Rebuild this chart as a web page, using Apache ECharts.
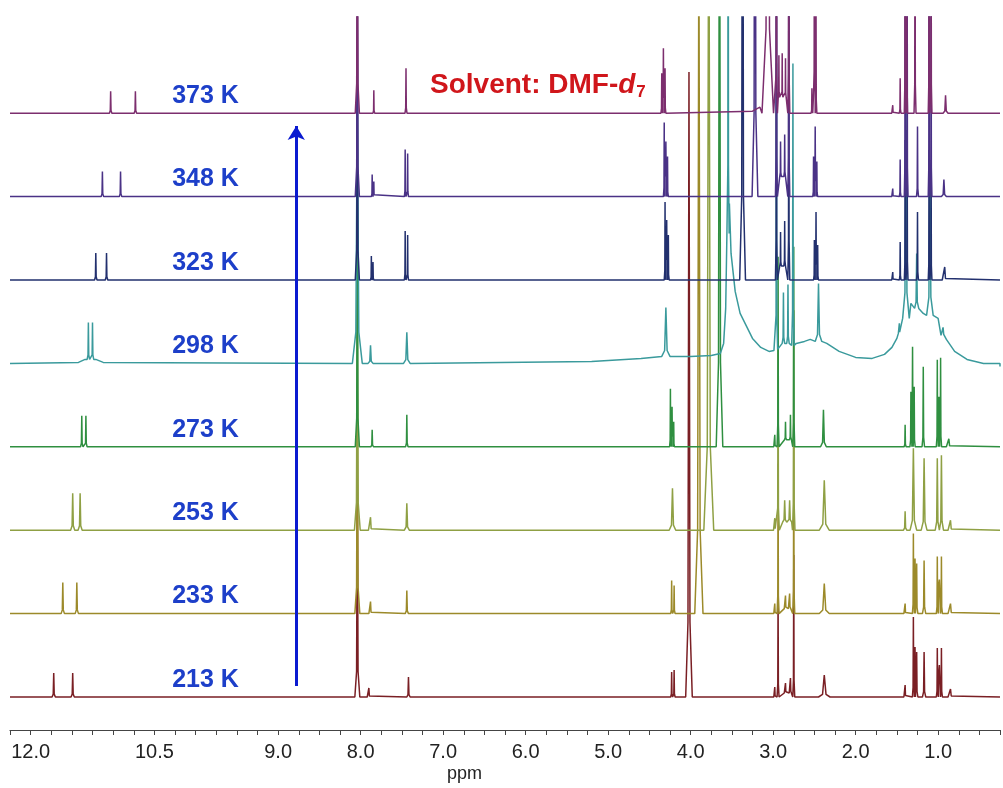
<!DOCTYPE html>
<html>
<head>
<meta charset="utf-8">
<script src="https://cdn.jsdelivr.net/npm/echarts@6/dist/echarts.min.js"></script>
<style>
  html, body { margin: 0; padding: 0; background: #fff; }
  #nmr { width: 1003px; height: 788px; }
</style>
</head>
<body>
<div id="nmr"></div>
<script>
  // spectra from bottom to top
  var temps = ['213 K', '233 K', '253 K', '273 K', '298 K', '323 K', '348 K', '373 K'];
  var lineColors = ['#7a1f24', '#9c8a2a', '#8fa044', '#2f8f40', '#3a9a9c', '#22306e', '#4a3286', '#7c2e6e'];
  var tickLabels = [12.0, 10.5, 9.0, 8.0, 7.0, 6.0, 5.0, 4.0, 3.0, 2.0, 1.0];

  // peaks: [ppm, height, half width in ppm, foot level]
  var peaks213 = [
    [11.72, 24, 0.02], [11.49, 24, 0.02],
    [8.04, 212, 0.03], [7.90, 9, 0.02], [7.42, 20, 0.02],
    [4.23, 25, 0.012], [4.20, 27, 0.012],
    [4.02, 625, 0.04],
    [2.98, 10, 0.012], [2.94, 107, 0.012], [2.85, 14, 0.015, 4], [2.79, 19, 0.015, 4], [2.75, 142, 0.012],
    [2.38, 22, 0.07],
    [1.40, 12, 0.015],
    [1.30, 80, 0.012], [1.28, 50, 0.012, 18], [1.26, 45, 0.015],
    [1.17, 45, 0.02],
    [1.01, 49, 0.012], [0.985, 32, 0.01, 22], [0.96, 49, 0.012],
    [0.85, 8, 0.03]
  ];
  var peaks233 = [
    [11.61, 31, 0.02], [11.44, 31, 0.02],
    [8.04, 220, 0.03], [7.88, 12, 0.02], [7.44, 23, 0.02],
    [4.23, 33, 0.012], [4.20, 28, 0.012],
    [3.90, 700, 0.05],
    [2.98, 10, 0.012], [2.94, 150, 0.012], [2.85, 18, 0.015, 5], [2.80, 20, 0.015, 5], [2.75, 190, 0.012],
    [2.38, 30, 0.06],
    [1.40, 10, 0.015],
    [1.30, 80, 0.012], [1.28, 55, 0.012, 20], [1.26, 50, 0.015],
    [1.17, 53, 0.02],
    [1.01, 57, 0.012], [0.985, 34, 0.01, 28], [0.96, 57, 0.012],
    [0.85, 10, 0.03]
  ];
  var peaks253 = [
    [11.49, 37, 0.025], [11.40, 37, 0.025],
    [8.04, 230, 0.035], [7.88, 13, 0.025], [7.44, 27, 0.03],
    [4.22, 42, 0.04],
    [3.78, 700, 0.06],
    [2.98, 12, 0.015], [2.94, 185, 0.015], [2.86, 30, 0.025, 8], [2.80, 30, 0.025, 8], [2.75, 220, 0.015],
    [2.38, 50, 0.06],
    [1.40, 19, 0.02],
    [1.30, 82, 0.04],
    [1.17, 72, 0.035],
    [1.01, 72, 0.025], [0.96, 75, 0.025],
    [0.85, 10, 0.03]
  ];
  var peaks273 = [
    [11.38, 31, 0.015], [11.33, 31, 0.015],
    [8.04, 240, 0.025], [7.86, 17, 0.015], [7.44, 32, 0.015],
    [4.245, 58, 0.01], [4.225, 40, 0.01, 10], [4.205, 25, 0.01],
    [3.65, 700, 0.04],
    [2.98, 12, 0.012], [2.94, 190, 0.012], [2.85, 25, 0.012, 7], [2.79, 32, 0.012, 7], [2.75, 200, 0.012],
    [2.39, 37, 0.035],
    [1.40, 22, 0.012],
    [1.33, 55, 0.012], [1.31, 100, 0.012, 30], [1.29, 60, 0.012],
    [1.18, 80, 0.015],
    [1.01, 87, 0.012], [0.99, 50, 0.01, 30], [0.97, 89, 0.012],
    [0.87, 8, 0.03]
  ];
  var peaks298 = [
    [11.30, 41, 0.015, 4], [11.25, 41, 0.015, 4],
    [8.04, 260, 0.06], [7.88, 18, 0.03], [7.44, 31, 0.04],
    [4.30, 56, 0.05, 7],
    [3.545, 700, 0.012, 130],
    [2.96, 300, 0.015, 14], [2.875, 71, 0.015, 20], [2.82, 79, 0.015, 20], [2.76, 300, 0.015, 18],
    [2.45, 80, 0.04, 22],
    [1.47, 40, 0.012, 30],
    [1.39, 260, 0.04, 45],
    [1.26, 110, 0.025, 55],
    [1.10, 200, 0.04, 48],
    [0.94, 36, 0.025, 28]
  ];
  var peaks323 = [
    [11.21, 27, 0.015], [11.08, 27, 0.015],
    [8.04, 250, 0.025], [7.87, 24, 0.01], [7.85, 18, 0.01], [7.46, 49, 0.01], [7.43, 45, 0.01],
    [4.31, 78, 0.01], [4.29, 60, 0.01, 20], [4.27, 45, 0.01],
    [3.37, 700, 0.035],
    [2.96, 330, 0.012], [2.91, 48, 0.01, 14], [2.86, 59, 0.01, 14], [2.81, 330, 0.012],
    [2.50, 40, 0.01], [2.48, 68, 0.01, 15], [2.46, 35, 0.01],
    [1.55, 8, 0.012], [1.46, 38, 0.01],
    [1.40, 140, 0.01], [1.375, 150, 0.01],
    [1.25, 68, 0.012],
    [1.11, 130, 0.01], [1.085, 120, 0.01],
    [0.92, 13, 0.03]
  ];
  var peaks348 = [
    [11.13, 25, 0.015], [10.91, 25, 0.015],
    [8.04, 250, 0.025], [7.86, 22, 0.01], [7.84, 15, 0.01], [7.46, 47, 0.01], [7.43, 43, 0.01],
    [4.32, 74, 0.01], [4.30, 55, 0.01, 20], [4.28, 40, 0.01],
    [3.22, 700, 0.035],
    [2.96, 330, 0.012], [2.91, 55, 0.01, 20], [2.86, 62, 0.01, 20], [2.81, 330, 0.012],
    [2.51, 40, 0.01], [2.49, 70, 0.01, 15], [2.47, 35, 0.01],
    [1.55, 8, 0.012], [1.46, 37, 0.01],
    [1.40, 260, 0.01], [1.375, 240, 0.01],
    [1.25, 70, 0.012],
    [1.11, 250, 0.01], [1.085, 240, 0.01],
    [0.93, 17, 0.03]
  ];
  var peaks373 = [
    [11.03, 22, 0.015], [10.73, 22, 0.015],
    [8.04, 250, 0.025], [7.84, 23, 0.01], [7.45, 45, 0.012],
    [4.35, 40, 0.01], [4.33, 65, 0.01, 15], [4.31, 45, 0.01],
    [3.065, 700, 0.07],
    [2.96, 330, 0.012], [2.93, 58, 0.008, 16], [2.89, 60, 0.008, 16], [2.85, 55, 0.008, 16], [2.81, 330, 0.012],
    [2.53, 25, 0.01], [2.50, 200, 0.01, 20], [2.48, 110, 0.01],
    [1.55, 8, 0.012], [1.46, 35, 0.01],
    [1.40, 260, 0.01], [1.38, 240, 0.01],
    [1.28, 240, 0.012],
    [1.11, 250, 0.01], [1.085, 240, 0.01],
    [0.91, 18, 0.03]
  ];

  // broad baseline features: [ppm, level]
  var shape298 = [
    [11.42, 1], [11.34, 4], [11.21, 4], [11.12, 1],
    [5.2, 2], [4.6, 5], [4.0, 7], [3.75, 8], [3.64, 10], [3.60, 20], [3.575, 55], [3.56, 130],
    [3.53, 160], [3.51, 110], [3.46, 72], [3.40, 50], [3.34, 40], [3.25, 25], [3.15, 16], [3.05, 12], [2.99, 13],
    [2.72, 20], [2.62, 22], [2.55, 24], [2.35, 20], [2.2, 12], [2.0, 6], [1.8, 5], [1.65, 9], [1.56, 16], [1.50, 25],
    [1.33, 60], [1.18, 50], [1.00, 45], [0.90, 24], [0.80, 12], [0.65, 4], [0.45, 0], [0.25, -3]
  ];
  var shape373 = [[3.25, 2], [3.16, 6]];

  var allPeaks = [peaks213, peaks233, peaks253, peaks273, peaks298, peaks323, peaks348, peaks373];
  var allShapes = [[], [], [], [], shape298, [], [], shape373];

  var FIRST = 33, STEP = 83.4;   // stacking of the traces

  function trace(peaks, shape, off) {
    var pts = [[12.25, 0], [0.25, 0]];
    shape.forEach(function (s) { pts.push([s[0], s[1]]); });
    peaks.forEach(function (p) {
      var c = p[0], h = p[1], hw = p[2] || 0.02, b = p[3] || 0;
      var k = b + (h - b) * 0.12;
      pts.push([c + hw, b], [c + hw * 0.3, k], [c, h], [c - hw * 0.3, k], [c - hw, b]);
    });
    pts.sort(function (a, b) { return b[0] - a[0]; });
    return pts.map(function (q) { return [q[0], q[1] + off]; });
  }

  var font = 'Liberation Sans, Arial, sans-serif';
  var series = allPeaks.map(function (pk, i) {
    var off = FIRST + i * STEP;
    var s = {
      name: temps[i],
      type: 'line',
      data: trace(pk, allShapes[i], off),
      symbol: 'none',
      sampling: null,
      clip: true,
      lineStyle: { color: lineColors[i], width: 1.5 },
      markPoint: {
        silent: true,
        symbol: 'circle',
        symbolSize: 1,
        itemStyle: { color: 'rgba(0,0,0,0)' },
        data: [{ coord: [9.88, off + 17] }],
        label: {
          show: true,
          position: 'inside',
          formatter: temps[i],
          color: '#1d3fc9',
          fontSize: 25,
          fontWeight: 'bold',
          fontFamily: font
        }
      }
    };
    if (i === 0) {
      // temperature arrow
      s.markLine = {
        silent: true,
        symbol: ['none', 'arrow'],
        symbolSize: [13, 14],
        label: { show: false },
        lineStyle: { color: '#0b1bd0', width: 3, type: 'solid' },
        data: [[{ coord: [8.78, 44] }, { coord: [8.78, 604] }]]
      };
    }
    return s;
  });

  var myChart = echarts.init(document.getElementById('nmr'));
  myChart.setOption({
    animation: false,
    backgroundColor: '#fff',
    grid: { left: 10, right: 0, top: 17, bottom: 58 },
    xAxis: {
      type: 'value',
      inverse: true,
      min: 0.25,
      max: 12.25,
      interval: 0.25,
      splitLine: { show: false },
      axisLine: { lineStyle: { color: '#444', width: 1.2 } },
      axisTick: { length: 5, lineStyle: { color: '#444' } },
      axisLabel: {
        margin: 12,
        color: '#222',
        fontSize: 20,
        fontFamily: font,
        formatter: function (v) {
          for (var j = 0; j < tickLabels.length; j++) {
            if (Math.abs(v - tickLabels[j]) < 1e-6) return tickLabels[j].toFixed(1);
          }
          return '';
        }
      }
    },
    yAxis: { type: 'value', min: 0, max: 713, show: false },
    graphic: [
      {
        type: 'text',
        left: 447,
        top: 765,
        style: { text: 'ppm', fill: '#222', font: '18px ' + font }
      },
      {
        type: 'text',
        left: 430,
        top: 71,
        style: {
          text: '{a|Solvent: DMF-}{b|d}{c|7}',
          rich: {
            a: { fill: '#d0161b', fontSize: 28, fontWeight: 'bold', fontFamily: font },
            b: { fill: '#d0161b', fontSize: 28, fontWeight: 'bold', fontStyle: 'italic', fontFamily: font },
            c: { fill: '#d0161b', fontSize: 17, fontWeight: 'bold', fontFamily: font, padding: [14, 0, 0, 1] }
          }
        }
      }
    ],
    series: series
  });
</script>
</body>
</html>
